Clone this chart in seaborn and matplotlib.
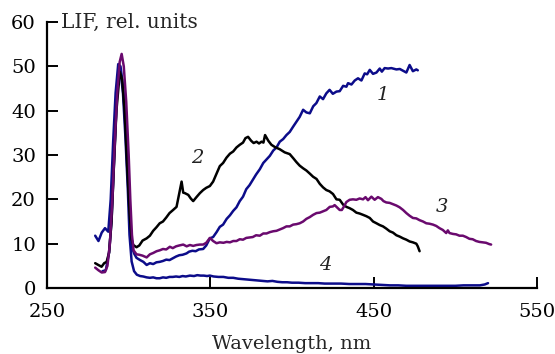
import numpy as np
import pandas as pd
import matplotlib
matplotlib.use('Agg')
import matplotlib.pyplot as plt
import seaborn as sns

# curve 1 (navy)
wl_1 = [279.5, 281.5, 283.5, 285.5, 287.5, 289, 290.5, 292, 293.6, 295, 296.7, 298.3, 299.7, 300.8, 301.8,
        303.3, 304.8, 307, 309, 311, 313, 315, 317, 319, 321, 323, 325, 327, 329, 331, 333, 335.4, 337, 339,
        341, 343, 345.6, 347.5, 349.7, 351.7, 353.8, 355.8, 357.8, 360, 362, 364, 366, 368, 370, 372, 374,
        376, 378, 380.3, 382.4, 384.4, 386.4, 388.5, 390.5, 392.5, 394.6, 396.6, 398.6, 400.7, 402.7, 404.7,
        406.8, 408.8, 410.9, 413, 414.9, 417, 419, 421, 423, 425, 427.2, 429.2, 431.3, 433.3, 434.3, 436.4,
        438.4, 440.4, 442.5, 444.5, 446, 447.6, 449.6, 451.7, 453.7, 455, 456.7, 458.8, 460.8, 463.9, 466,
        468, 470, 472, 474, 476.1, 477]
lif_1 = [11.8, 10.6, 12.5, 13.5, 12.7, 20, 33, 44, 50.5, 50, 45, 36, 26, 16, 9.5,
         7.8, 6.8, 6.3, 5.9, 5.2, 5.6, 5.4, 5.8, 5.9, 6.1, 6.4, 6.3, 6.7, 7.1, 7.4, 7.5, 7.8, 8.2, 8.4,
         8.3, 8.7, 8.8, 9.6, 11.2, 11.5, 12.6, 13.8, 14.3, 15.6, 16.4, 17.4, 18.2, 19.6, 20.6, 22.3, 23.2,
         24.4, 25.6, 26.8, 28.2, 29.0, 29.8, 31.0, 31.7, 33.0, 33.6, 34.5, 35.2, 36.4, 37.5, 38.6,
         40.2, 39.6, 39.4, 41.0, 41.7, 43.2, 42.6, 43.9, 44.7, 43.8, 44.3, 44.4, 45.6, 45.4, 46.2, 45.9,
         46.8, 47.3, 46.8, 48.4, 48.2, 49.2, 48.3, 48.6, 49.5, 48.8, 49.6, 49.5, 49.6, 49.3, 49.4,
         49.0, 48.6, 50.3, 48.9, 49.3, 49.1]

# curve 2 (black)
wl_2 = [279.5, 281.4, 283.4, 285, 286.5, 288, 289.5, 291, 292.5, 294.6, 296, 297.5, 299, 300.5, 301.8,
        302.8, 304.8, 306.5, 308.5, 311, 313, 315, 317, 319, 321, 323, 325, 327.2, 329.3, 330.5, 332.4,
        333.4, 334.4, 336.5, 338, 339.5, 341.5, 343.6, 345.6, 347.5, 349.7, 351.7, 353.8, 355.8, 357.8,
        359.9, 362, 364, 366, 368, 370, 371.5, 373.1, 375, 376.5, 378.3, 379.8, 381.3, 382.5, 383.5, 385.5,
        387.4, 389.5, 392.5, 395.5, 398.6, 400.7, 402.7, 404.7, 406.8, 408.8, 410.9, 412.9, 415, 417, 419,
        421, 423, 425.1, 427.2, 429.2, 431.3, 433.3, 435.3, 437.3, 439.4, 441.4, 443.5, 445.5, 447.6,
        449.6, 451.7, 453.7, 455.7, 457.7, 459.8, 461.8, 463.9, 465.9, 468, 470, 472, 474, 476.1, 477,
        478.1]
lif_2 = [5.6, 5.2, 4.8, 5.6, 5.9, 8, 15, 28, 40, 48.8, 47, 40, 28, 17, 11,
         9.7, 9.2, 9.6, 10.7, 11.2, 11.8, 12.9, 13.7, 14.6, 15.0, 15.9, 16.9, 17.6, 18.3, 20.5, 24.0,
         21.5, 21.4, 21.0, 20.2, 19.6, 20.5, 21.4, 22.1, 22.6, 23.0, 24.0, 25.8, 27.5, 28.2,
         29.4, 30.3, 30.8, 31.7, 32.3, 32.8, 33.8, 34.1, 33.2, 32.7, 33.0, 32.6, 33.0, 32.8, 34.5, 33.2,
         32.3, 31.8, 31.3, 30.6, 30.2, 29.3, 28.4, 27.6, 27.0, 26.5, 25.8, 25.1, 24.6, 23.5, 22.7,
         22.1, 21.8, 21.2, 20.0, 19.9, 18.8, 18.3, 18.0, 17.6, 17.0, 16.8, 16.5, 16.2, 15.8,
         15.0, 14.6, 14.2, 13.9, 13.4, 12.8, 12.5, 11.9, 11.6, 11.2, 10.9, 10.5, 10.3, 10.0, 9.4,
         8.3]

# curve 3 (purple)
wl_3 = [279.5, 281.5, 283.5, 285.5, 287, 288.5, 290, 291.5, 293, 294.5, 295.7, 297, 298.5, 300, 301,
        302, 303, 304.8, 306.5, 308.5, 311, 313, 315, 317.1, 319, 321, 323, 325.2, 327, 329, 331, 333.4,
        335.5, 337.5, 339.5, 341.5, 343.6, 345.6, 347.5, 349.7, 351.7, 353.8, 355.8, 358, 360, 362, 364,
        366, 368, 370, 372, 374.2, 376, 378, 380.3, 382.4, 384.4, 386.4, 388.5, 390.5, 392.5, 394.5, 396.6,
        398.6, 400.7, 402.7, 404.7, 406.8, 408.8, 410.9, 412.9, 415, 417, 419, 421, 423.1, 425, 426.1,
        427.5, 429.2, 430.5, 432, 433.3, 435.3, 437.3, 439.4, 441.4, 443.5, 445, 446.5, 448.6, 450.6,
        452.6, 454.7, 456, 457.7, 459.8, 461.8, 463.9, 465.9, 468, 470, 472, 474, 476.1, 478.1, 480.2,
        482.2, 484.2, 486.3, 488.3, 490.3, 492.3, 494.4, 495.4, 496.4, 498.5, 500.5, 502.5, 504.6, 506.6,
        508.6, 510.6, 512.7, 514.7, 516.7, 518.8, 520.8, 521.9]
lif_3 = [4.6, 4.0, 3.5, 3.6, 5, 10, 20, 33, 44, 51, 52.8, 50, 42, 30, 20,
         12, 8.5, 7.6, 7.5, 7.3, 6.9, 7.6, 7.9, 8.3, 8.5, 8.8, 8.7, 9.3, 9.0, 9.4, 9.6, 9.8,
         9.4, 9.7, 9.5, 9.7, 9.8, 9.8, 10.2, 11.3, 10.6, 10.1, 10.3, 10.2, 10.4, 10.3, 10.6,
         10.6, 11.0, 10.9, 11.3, 11.4, 11.5, 11.9, 11.8, 12.3, 12.3, 12.6, 12.8, 12.9, 13.2, 13.5, 13.9,
         13.9, 14.3, 14.4, 14.6, 15.0, 15.6, 16.0, 16.5, 16.9, 17.0, 17.3, 17.6, 18.3, 18.4, 18.7,
         18.2, 17.6, 17.6, 18.5, 19.4, 19.9, 20.0, 19.9, 20.2, 20.0, 20.5, 19.8, 20.6, 19.9,
         20.5, 20.1, 19.6, 19.3, 19.2, 18.9, 18.6, 18.2, 17.6, 16.9, 16.3, 15.8, 15.7, 15.3, 15.0,
         14.6, 14.5, 14.3, 14.0, 13.5, 13.1, 12.4, 13.0, 12.4, 12.2, 12.1, 11.8, 11.8, 11.5,
         11.1, 11.0, 10.6, 10.4, 10.3, 10.2, 9.9, 9.8]

# curve 4 (navy, low)
wl_4 = [284, 286, 288, 289.5, 291, 292.5, 293.8, 295, 296.5, 298, 299.5, 300.5, 301.8, 303.3, 305, 307,
        308.9, 311, 313, 315, 317, 319, 321, 323, 325, 327, 329, 331, 333, 335, 337.5, 340, 342, 344, 346,
        348, 349.7, 352, 355, 358, 361, 364, 367, 370, 373, 376, 379, 382, 385, 388, 391, 394, 397, 400,
        404, 408, 412, 416, 420, 425, 430, 435, 440, 445, 450, 455, 460, 465, 470, 475, 480, 485, 490, 495,
        500, 505, 510, 515, 518, 520]
lif_4 = [3.8, 4.0, 8, 15, 28, 41, 49.5, 49, 44, 34, 22, 12, 6, 3.8, 3.0, 2.7,
         2.6, 2.4, 2.3, 2.4, 2.2, 2.2, 2.4, 2.3, 2.5, 2.5, 2.6, 2.5, 2.7, 2.6, 2.8, 2.7, 2.9, 2.8, 2.8,
         2.7, 2.8, 2.6, 2.5, 2.5, 2.3, 2.3, 2.1, 2.0, 1.9, 1.8, 1.7, 1.6, 1.5, 1.6, 1.4, 1.3, 1.3, 1.2,
         1.2, 1.1, 1.1, 1.1, 1.0, 1.0, 1.0, 0.9, 0.9, 0.9, 0.8, 0.7, 0.6, 0.6, 0.5, 0.5, 0.5, 0.5, 0.5, 0.5,
         0.5, 0.6, 0.6, 0.6, 0.8, 1.1]

x_ticks = [250, 350, 450, 550]
y_ticks = [0, 10, 20, 30, 40, 50, 60]
curve_names = ['1', '2', '3', '4']
# label anchor points (wavelength, LIF)
label_wl = [455.5, 341.7, 492, 420.6]
label_lif = [43.5, 29.3, 18.3, 5.2]

navy = '#0c0c8a'
purple = '#6a0a6e'

sns.set_style('ticks')
plt.rcParams['font.family'] = ['DejaVu Serif']

fig, ax = plt.subplots(figsize=(5.55, 3.54), dpi=100)
fig.subplots_adjust(left=0.0847, right=0.9676, bottom=0.1864, top=0.9379)

lw = 1.8
sns.lineplot(x=wl_4, y=lif_4, color=navy, lw=lw, sort=False, ax=ax)
sns.lineplot(x=wl_1, y=lif_1, color=navy, lw=lw, sort=False, ax=ax)
sns.lineplot(x=wl_2, y=lif_2, color='black', lw=lw, sort=False, ax=ax)
sns.lineplot(x=wl_3, y=lif_3, color=purple, lw=lw, sort=False, ax=ax)

for name, lx, ly in zip(curve_names, label_wl, label_lif):
    ax.text(lx, ly, name, style='italic', fontsize=14, color='#222222', ha='center', va='center')

ax.set_xlim(250, 550)
ax.set_ylim(0, 60)
ax.set_xticks(x_ticks)
ax.set_yticks(y_ticks)
ax.tick_params(direction='in', length=8, width=1.4, labelsize=14, colors='black')
ax.tick_params(axis='y', pad=8)
ax.tick_params(axis='x', pad=11)
for s in ['top', 'right']:
    ax.spines[s].set_visible(False)
for s in ['left', 'bottom']:
    ax.spines[s].set_linewidth(1.6)
    ax.spines[s].set_color('black')

ax.set_xlabel('Wavelength, nm', fontsize=14, labelpad=10)
ax.set_ylabel('')
ax.text(258.6, 60, 'LIF, rel. units', fontsize=14.5, ha='left', va='center')

plt.savefig('out.png', dpi=100)
